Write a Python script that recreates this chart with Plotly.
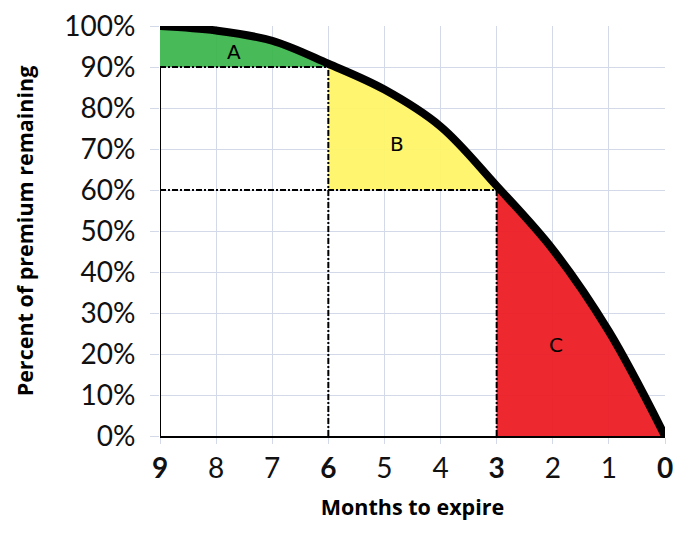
import plotly.graph_objects as go

# --- data ---
months = [9, 8, 7, 6, 5, 4, 3, 2, 1, 0]
premium = [100, 98.9, 96.4, 90.8, 84.5, 75.5, 61, 45.5, 25.5, 0]

tick_months = [9, 8, 7, 6, 5, 4, 3, 2, 1, 0]
tick_text = ["<b>9</b>", "8", "7", "<b>6</b>", "5", "4", "<b>3</b>", "2", "1", "<b>0</b>"]
pct_ticks = [0, 10, 20, 30, 40, 50, 60, 70, 80, 90, 100]
pct_text = [f"{v}%" for v in pct_ticks]

# region boundaries: (label, start month, end month, floor level, colour)
regions = [
    ("A", 9, 6, 90, "rgba(58,181,74,0.93)"),
    ("B", 6, 3, 60, "rgba(255,244,100,0.93)"),
    ("C", 3, 0, 0, "rgba(237,28,36,0.95)"),
]
label_pos = {"A": (7.68, 93.6), "B": (4.78, 71.2), "C": (1.94, 22.3)}

fig = go.Figure()

for name, m0, m1, floor, color in regions:
    i0, i1 = months.index(m0), months.index(m1)
    seg_x = months[i0:i1 + 1]
    seg_y = premium[i0:i1 + 1]
    fig.add_trace(go.Scatter(x=seg_x, y=[floor] * len(seg_x), mode="lines",
                             line=dict(width=0), showlegend=False, hoverinfo="skip"))
    fig.add_trace(go.Scatter(x=seg_x, y=seg_y, mode="lines", fill="tonexty",
                             fillcolor=color, line=dict(width=0, shape="spline"),
                             showlegend=False, hoverinfo="skip"))

# reference lines
dash = "6px,2px,2px,2px"
for m, level in [(6, 90), (3, 60)]:
    fig.add_trace(go.Scatter(x=[9, m], y=[level, level], mode="lines",
                             line=dict(color="black", width=2, dash=dash), showlegend=False))
    fig.add_trace(go.Scatter(x=[m, m], y=[0, level], mode="lines",
                             line=dict(color="black", width=2, dash=dash), showlegend=False))

# left edge of the chart
fig.add_trace(go.Scatter(x=[9, 9], y=[0, 90], mode="lines",
                         line=dict(color="black", width=2), showlegend=False))

# premium curve
fig.add_trace(go.Scatter(x=months, y=premium, mode="lines",
                         line=dict(color="black", width=8, shape="spline"), showlegend=False))

for name, (lx, ly) in label_pos.items():
    fig.add_annotation(x=lx, y=ly, text=name, showarrow=False,
                       font=dict(family="DejaVu Sans", size=20, color="black"))

grid = "#D3D9E8"
fig.update_xaxes(
    range=[9, 0], tickvals=tick_months, ticktext=tick_text,
    showgrid=True, gridcolor=grid, gridwidth=1.3,
    ticks="outside", ticklen=6, tickcolor=grid, ticklabelstandoff=0,
    showline=True, linecolor="black", linewidth=2, layer="above traces",
    zeroline=False, automargin=False,
    tickfont=dict(family="Lato", size=28, color="#111"),
    title=dict(text="<b>Months to expire</b>", standoff=17,
               font=dict(family="Open Sans", size=21.5, color="black")),
)
fig.update_yaxes(
    range=[0, 100], tickvals=pct_ticks, ticktext=pct_text,
    showgrid=True, gridcolor=grid, gridwidth=1.3,
    ticks="outside", ticklen=9, tickcolor=grid,
    ticklabelstandoff=9, ticklabeloverflow="allow",
    showline=False, zeroline=False, layer="below traces", automargin=False,
    tickfont=dict(family="Lato", size=28, color="#111"),
    title=dict(text="<b>Percent of premium remaining</b>", standoff=24,
               font=dict(family="Open Sans", size=21.5, color="black")),
)
# the page body adds an 8px margin, so the figure is 8px smaller
fig.update_layout(
    width=688, height=532,
    margin=dict(l=152, r=31, t=18, b=104),
    paper_bgcolor="white", plot_bgcolor="white",
    showlegend=False,
)

fig.write_html("out.html")
